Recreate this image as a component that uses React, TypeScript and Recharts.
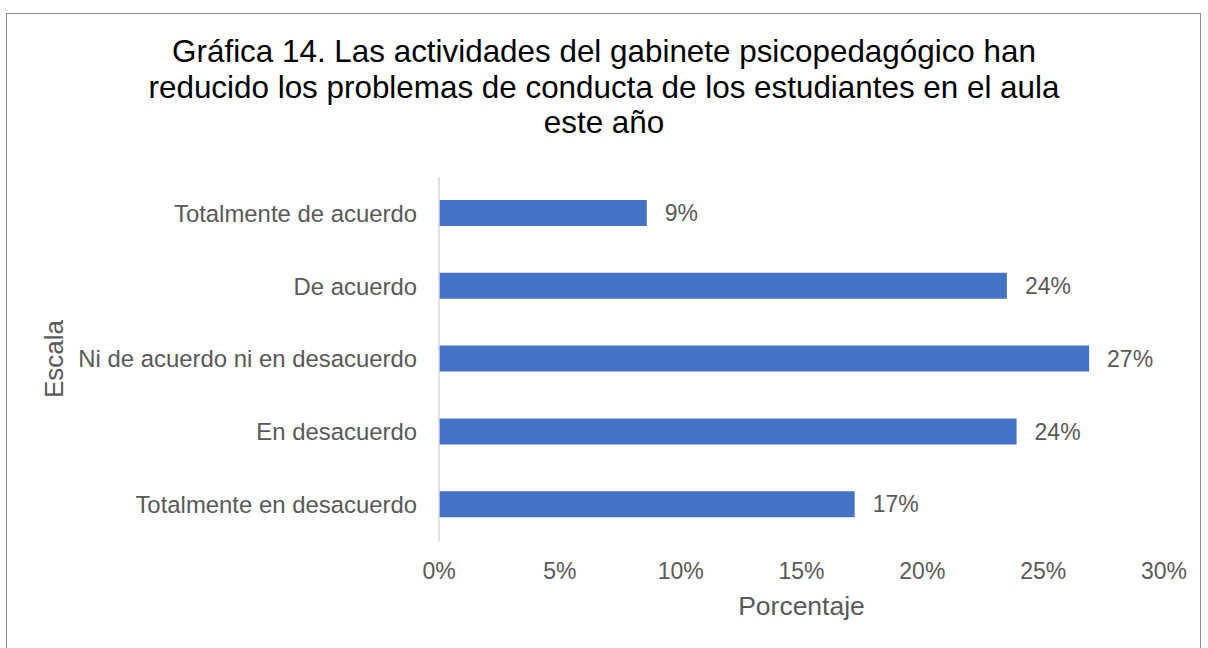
import { BarChart, Bar, XAxis, YAxis, LabelList } from "recharts";

const categories = [
  "Totalmente de acuerdo",
  "De acuerdo",
  "Ni de acuerdo ni en desacuerdo",
  "En desacuerdo",
  "Totalmente en desacuerdo",
];
const percentages = [8.6, 23.5, 26.9, 23.9, 17.2];
const xTicks = [0, 5, 10, 15, 20, 25, 30];
const titleLines = [
  "Gráfica 14. Las actividades del gabinete psicopedagógico han",
  "reducido los problemas de conducta de los estudiantes en el aula",
  "este año",
];

const data = categories.map((escala, i) => ({ escala, valor: percentages[i] }));

const FONT = '"Liberation Sans", Arial, sans-serif';
const GRAY = "#595959";

function EscalaLabel(props: any) {
  const vb = props.viewBox || {};
  const x = 63;
  const y = vb.y + vb.height / 2;
  return (
    <text
      x={x}
      y={y}
      transform={`rotate(-90, ${x}, ${y})`}
      textAnchor="middle"
      fill={GRAY}
      fontSize={26}
      fontFamily={FONT}
    >
      Escala
    </text>
  );
}

export default function App() {
  return (
    <div
      style={{
        position: "absolute",
        left: 0,
        top: 0,
        width: 1208,
        height: 648,
        overflow: "hidden",
        background: "#fff",
        fontFamily: FONT,
      }}
    >
      <div
        style={{
          position: "absolute",
          left: 6,
          top: 13,
          width: 1193,
          height: 700,
          border: "1px solid #8c8c8c",
        }}
      />
      <div
        style={{
          position: "absolute",
          left: 0,
          top: 34,
          width: 1208,
          textAlign: "center",
          fontSize: 31.4,
          lineHeight: "35.5px",
          color: "#000",
        }}
      >
        {titleLines.map((t) => (
          <div key={t}>{t}</div>
        ))}
      </div>
      <div style={{ position: "absolute", left: 0, top: 0 }}>
        <BarChart
          width={1208}
          height={648}
          data={data}
          layout="vertical"
          margin={{ top: 177, right: 44, left: 0, bottom: 0 }}
        >
          <XAxis
            type="number"
            domain={[0, 30]}
            ticks={xTicks}
            tickFormatter={(v: number) => `${v}%`}
            height={107}
            axisLine={false}
            tickLine={false}
            tickSize={0}
            tickMargin={22}
            tick={{ fill: GRAY, fontSize: 23, fontFamily: FONT }}
            label={{
              value: "Porcentaje",
              position: "insideBottom",
              offset: 33,
              fill: GRAY,
              fontSize: 26.5,
              fontFamily: FONT,
            }}
          />
          <YAxis
            type="category"
            dataKey="escala"
            width={439}
            axisLine={{ stroke: "#d9d9d9", strokeWidth: 1.5 }}
            tickLine={false}
            tickSize={0}
            tickMargin={22}
            tick={{ fill: GRAY, fontSize: 23.9, fontFamily: FONT }}
            label={<EscalaLabel />}
          />
          <Bar dataKey="valor" fill="#4472C4" barSize={26} isAnimationActive={false}>
            <LabelList
              dataKey="valor"
              position="right"
              offset={18}
              formatter={(v: number) => `${Math.round(v)}%`}
              fill={GRAY}
              fontSize={23}
              fontFamily={FONT}
            />
          </Bar>
        </BarChart>
      </div>
    </div>
  );
}
